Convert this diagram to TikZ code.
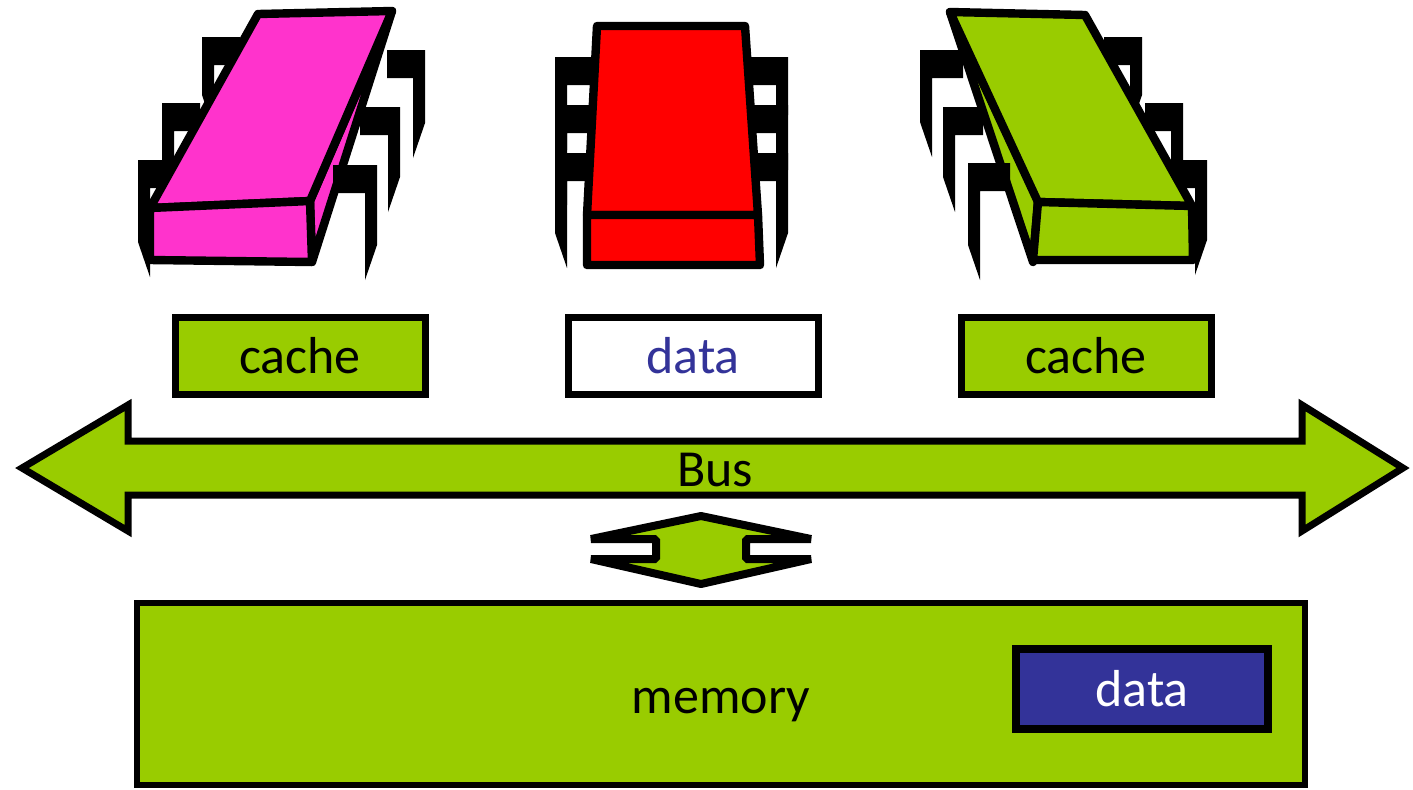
\documentclass[tikz,border=0pt]{standalone}
\usepackage{fontspec}
\setmainfont{Carlito}
\definecolor{lgreen}{HTML}{99CC00}
\definecolor{pinkc}{HTML}{FF33CC}
\definecolor{redc}{HTML}{FF0000}
\definecolor{navyc}{HTML}{333399}
\newcommand\chippinL[4]{\fill (#1,#3) -- (#2,#3) -- (#2,#3+28) -- (#1+12,#3+28) -- (#1+12,#4) -- (#1,#4-35) -- cycle;}
\newcommand\chippinR[4]{\fill (#1,#3) -- (#2,#3) -- (#2,#4-35) -- (#2-12,#4) -- (#2-12,#3+28) -- (#1,#3+28) -- cycle;}
\begin{document}
\begin{tikzpicture}[x=0.5pt,y=-0.5pt,
  chipface/.style={draw=black,line width=4.2pt,line join=round},
  tbox/.style={draw=black,line width=3.5pt,minimum width=125pt,minimum height=38.5pt,inner sep=0pt,font=\fontsize{26}{30}\selectfont},
  bigarrow/.style={draw=black,line width=3.5pt,fill=lgreen,line join=miter},
  lbl/.style={font=\fontsize{26}{30}\selectfont,inner sep=0pt}]
\useasboundingbox (0,0) rectangle (1413,789);

% ---------- left chip (pink) ----------
\chippinL{202}{240}{37}{130}
\chippinL{162}{200}{103}{200}
\chippinL{138}{178}{160}{277}
\path[chipface,fill=pinkc] (392,11) -- (310,201) -- (312,262) -- cycle;
\chippinR{387}{425}{50}{158}
\chippinR{360}{400}{107}{212}
\chippinR{333}{377}{165}{280}
\path[chipface,fill=pinkc] (258,14) -- (392,11) -- (310,201) -- (150,208) -- cycle;
\path[chipface,fill=pinkc] (150,208) -- (310,201) -- (312,262) -- (150,260) -- cycle;

% ---------- middle chip (red) ----------
\chippinL{555}{600}{57}{150}
\chippinL{555}{600}{105}{205}
\chippinL{555}{600}{153}{268}
\chippinR{743}{788}{57}{150}
\chippinR{743}{788}{105}{205}
\chippinR{743}{788}{153}{268}
\path[chipface,fill=redc] (597,26) -- (745,26) -- (758,215) -- (587,215) -- cycle;
\path[chipface,fill=redc] (587,215) -- (758,215) -- (760,265) -- (587,265) -- cycle;

% ---------- right chip (green) ----------
\chippinR{1104}{1142}{37}{130}
\chippinR{1145}{1183}{103}{200}
\chippinR{1167}{1207}{160}{275}
\path[chipface,fill=lgreen] (950,12) -- (1038,200) -- (1033,262) -- cycle;
\chippinL{920}{963}{50}{157}
\chippinL{943}{983}{107}{212}
\chippinL{968}{1010}{163}{280}
\path[chipface,fill=lgreen] (950,12) -- (1085,15) -- (1192,206) -- (1038,202) -- cycle;
\path[chipface,fill=lgreen] (1038,202) -- (1192,206) -- (1193,260) -- (1033,260) -- cycle;

% ---------- text boxes ----------
\node[tbox,fill=lgreen] (cacheL) at (300,355.5) {cache};
\node[tbox,fill=white,text=navyc] (dataTop) at (693,355.5) {data};
\node[tbox,fill=lgreen] (cacheR) at (1086,355.5) {cache};

% ---------- bus ----------
\path[bigarrow] (22,468) -- (128,405) -- (128,441) -- (1302,441) -- (1302,405) -- (1403,468)
  -- (1302,531) -- (1302,495) -- (128,495) -- (128,531) -- cycle;
\node[lbl] (bus) at (715,470) {Bus};

% ---------- small vertical arrow ----------
\path[draw=black,line width=4pt,fill=lgreen,line join=bevel]
  (701,516) -- (591,539) -- (656,539) -- (656,559) -- (591,559) -- (701,584)
  -- (811,559) -- (746,559) -- (746,539) -- (811,539) -- cycle;

% ---------- memory ----------
\node[draw=black,line width=3pt,fill=lgreen,minimum width=584pt,minimum height=91pt,inner sep=0pt] (memory) at (721,694) {};
\node[lbl] (memlbl) at (721,705) {memory};
\node[draw=black,line width=4pt,fill=navyc,text=white,minimum width=126pt,minimum height=40pt,inner sep=0pt,font=\fontsize{26}{30}\selectfont] (dataMem) at (1142,689) {data};
\end{tikzpicture}
\end{document}
